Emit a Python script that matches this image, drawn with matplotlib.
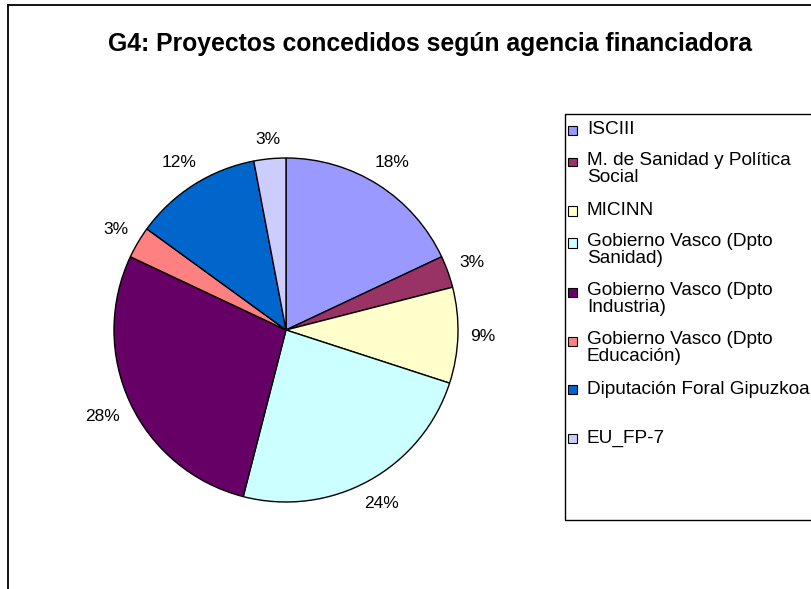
import matplotlib
matplotlib.use("Agg")
import numpy as np
import matplotlib.pyplot as plt
from matplotlib.patches import Rectangle
from matplotlib.lines import Line2D

plt.rcParams["font.family"] = ["Liberation Sans", "DejaVu Sans"]

# ======= Data =======
labels = ["ISCIII", "M. de Sanidad y Política\nSocial", "MICINN",
          "Gobierno Vasco (Dpto\nSanidad)", "Gobierno Vasco (Dpto\nIndustria)",
          "Gobierno Vasco (Dpto\nEducación)", "Diputación Foral Gipuzkoa", "EU_FP-7"]
shares = [18, 3, 9, 24, 28, 3, 12, 3]
colors = ["#9999FF", "#993366", "#FFFFCC", "#CCFFFF",
          "#660066", "#FF8080", "#0066CC", "#CCCCFF"]
title = "G4: Proyectos concedidos según agencia financiadora"
# ====================

W, H = 812, 589
fig = plt.figure(figsize=(W / 100, H / 100), dpi=100)

def fx(px):
    return px / W

def fy(py):
    return 1 - py / H

# outer chart border (only top/left visible)
fig.add_artist(Line2D([fx(8), 1.01], [fy(5), fy(5)], color="black", lw=1.3))
fig.add_artist(Line2D([fx(8), fx(8)], [fy(5), -0.01], color="black", lw=1.3))

fig.text(fx(430), fy(44), title, ha="center", va="center",
         fontsize=17.8, fontweight="bold")

cx, cy, r = 286, 330, 172
ax = fig.add_axes([fx(cx - r), fy(cy + r), 2 * r / W, 2 * r / H])
wedges, _ = ax.pie(shares, colors=colors, startangle=90, counterclock=False,
                   wedgeprops=dict(edgecolor="black", linewidth=1.0))
ax.set_xlim(-1, 1)
ax.set_ylim(-1, 1)
ax.axis("off")

# percent labels: box sits a small gap outside the rim (Excel style)
fig.canvas.draw()
renderer = fig.canvas.get_renderer()
gap = 12
total = sum(shares)
for w, v in zip(wedges, shares):
    ang = np.deg2rad((w.theta1 + w.theta2) / 2)
    c, s = np.cos(ang), np.sin(ang)
    t = ax.text(0, 0, f"{100 * v / total:.0f}%", ha="center", va="center", fontsize=12.5)
    bb = t.get_window_extent(renderer)
    hw, hh = bb.width / 2, bb.height / 2 - 1
    d = (r + gap + abs(c) * hw + abs(s) * hh) / r
    t.set_position((d * c, d * s))

# legend box
fig.add_artist(Rectangle((fx(565), fy(520)), fx(300), fy(114) - fy(520),
                         transform=fig.transFigure, facecolor="white",
                         edgecolor="black", lw=1.0))
ys = [130, 162, 211, 243, 292, 341, 389, 438]
for lab, col, y in zip(labels, colors, ys):
    fig.add_artist(Rectangle((fx(568), fy(y + 4.5)), fx(9), fy(y - 4.5) - fy(y + 4.5),
                             transform=fig.transFigure, facecolor=col,
                             edgecolor="black", lw=0.8))
    two = "\n" in lab
    fig.text(fx(587), fy(y - 10) if two else fy(y), lab, ha="left",
             va="top" if two else "center", fontsize=13.7, linespacing=1.02)

fig.savefig("out.png", dpi=100)
